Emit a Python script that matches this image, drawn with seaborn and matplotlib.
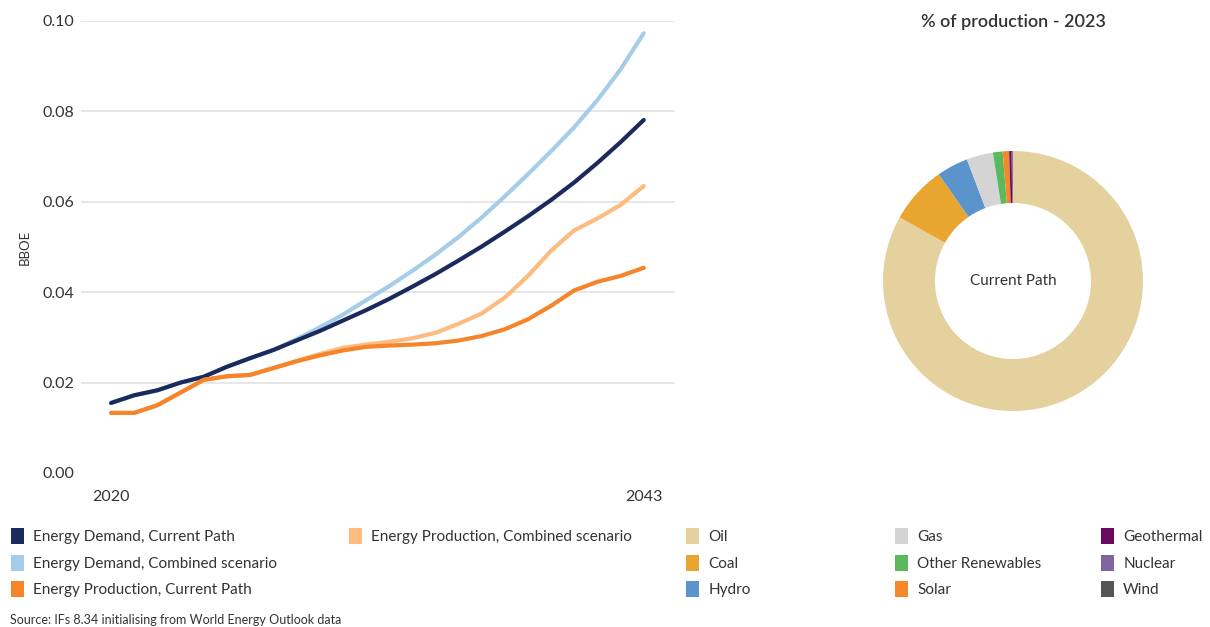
import numpy as np
import pandas as pd
import matplotlib
matplotlib.use("Agg")
import matplotlib.pyplot as plt
from matplotlib.patches import Patch
import seaborn as sns

years = list(range(2020, 2044))
demand_current = [0.0155, 0.0172, 0.0183, 0.0200, 0.0213, 0.0235, 0.0254, 0.0272, 0.0293, 0.0314,
                  0.0337, 0.0360, 0.0385, 0.0412, 0.0440, 0.0470, 0.0501, 0.0534, 0.0568, 0.0604,
                  0.0643, 0.0686, 0.0732, 0.0781]
demand_combined = [0.0155, 0.0172, 0.0183, 0.0200, 0.0213, 0.0235, 0.0254, 0.0272, 0.0296, 0.0322,
                   0.0350, 0.0382, 0.0413, 0.0447, 0.0483, 0.0522, 0.0565, 0.0612, 0.0661, 0.0712,
                   0.0765, 0.0825, 0.0893, 0.0973]
prod_current = [0.0133, 0.0133, 0.0150, 0.0178, 0.0206, 0.0214, 0.0217, 0.0232, 0.0247, 0.0260,
                0.0271, 0.0279, 0.0282, 0.0284, 0.0287, 0.0293, 0.0303, 0.0318, 0.0340, 0.0370,
                0.0404, 0.0423, 0.0436, 0.0454]
prod_combined = [0.0133, 0.0133, 0.0150, 0.0178, 0.0206, 0.0214, 0.0217, 0.0232, 0.0248, 0.0263,
                 0.0277, 0.0284, 0.0290, 0.0298, 0.0310, 0.0330, 0.0353, 0.0388, 0.0436, 0.0492,
                 0.0537, 0.0563, 0.0593, 0.0635]

series_names = ["Energy Demand, Current Path", "Energy Demand, Combined scenario",
                "Energy Production, Current Path", "Energy Production, Combined scenario"]
series_colors = ["#1b2a5c", "#a6cde8", "#f5842a", "#fdbb80"]

pie_labels = ["Oil", "Coal", "Hydro", "Gas", "Other Renewables", "Solar", "Geothermal", "Nuclear", "Wind"]
pie_values = [83.2, 7.2, 3.9, 3.3, 1.2, 0.8, 0.3, 0.15, 0.02]
pie_colors = ["#e5d19e", "#e8a530", "#5b93cc", "#d4d4d4", "#5cb85c", "#f5892a", "#690a5e", "#8064a2", "#555555"]

sns.set_theme(style="white")
plt.rcParams['font.family'] = ['Lato', 'DejaVu Sans']
text_color = "#333333"

W, H = 1210, 627
fig = plt.figure(figsize=(W / 100, H / 100), dpi=100)

def fr(x0, y0, x1, y1):
    return [x0 / W, 1 - y1 / H, (x1 - x0) / W, (y1 - y0) / H]

ax = fig.add_axes(fr(81, 21, 675, 473))
series_data = [demand_current, demand_combined, prod_current, prod_combined]
draw_order = [1, 0, 3, 2]
for i in draw_order:
    df = pd.DataFrame({"year": years, "value": series_data[i]})
    sns.lineplot(data=df, x="year", y="value", ax=ax, color=series_colors[i], linewidth=3, legend=False)
ax.set_xlim(2018.7, 2044.35)
ax.set_ylim(0, 0.1)
ax.set_yticks([0.0, 0.02, 0.04, 0.06, 0.08, 0.10])
ax.set_yticklabels(["0.00", "0.02", "0.04", "0.06", "0.08", "0.10"])
ax.set_xticks([2020, 2043])
ax.set_xticklabels(["2020", "2043"])
ax.tick_params(axis="both", length=0, labelsize=11.5, colors=text_color)
ax.tick_params(axis="y", pad=5)
ax.tick_params(axis="x", pad=12)
for g in [0.02, 0.04, 0.06, 0.08, 0.10]:
    ax.axhline(g, color="#e3e3e3", linewidth=1.2, zorder=0)
for s in ax.spines.values():
    s.set_visible(False)
ax.set_xlabel("")
ax.set_ylabel("BBOE", fontsize=9.5, color=text_color, labelpad=8)

# Pie
pax = fig.add_axes(fr(883, 151, 1143, 411))
pax.pie(pie_values, colors=pie_colors, startangle=90, counterclock=False, radius=1,
        wedgeprops=dict(width=0.4, edgecolor="none"))
pax.set_xlim(-1, 1)
pax.set_ylim(-1, 1)
pax.set_aspect("equal")
pax.text(0, 0, "Current Path", ha="center", va="center", fontsize=11, color=text_color)
fig.text(1013 / W, 1 - 22 / H, "% of production - 2023", ha="center", va="center",
         fontsize=13, fontweight="semibold", color=text_color)

# Legends
def col_legend(labels, colors, x, y):
    handles = [Patch(facecolor=c, edgecolor="none") for c in colors]
    leg = fig.legend(handles, labels, loc="upper left", bbox_to_anchor=(x / W, 1 - y / H),
                     frameon=False, fontsize=11, handlelength=0.85, handleheight=1.25,
                     handletextpad=0.6, labelspacing=0.68, borderaxespad=0, borderpad=0,
                     labelcolor=text_color)
    return leg

col_legend(series_names[:3], series_colors[:3], 11, 528)
col_legend(series_names[3:], series_colors[3:], 349, 528)
col_legend(pie_labels[0:3], pie_colors[0:3], 686, 528)
col_legend(pie_labels[3:6], pie_colors[3:6], 895, 528)
col_legend(pie_labels[6:9], pie_colors[6:9], 1101, 528)

fig.text(10 / W, 1 - 620 / H, "Source: IFs 8.34 initialising from World Energy Outlook data",
         fontsize=9, color=text_color, ha="left", va="center")

fig.savefig("out.png", dpi=100)
